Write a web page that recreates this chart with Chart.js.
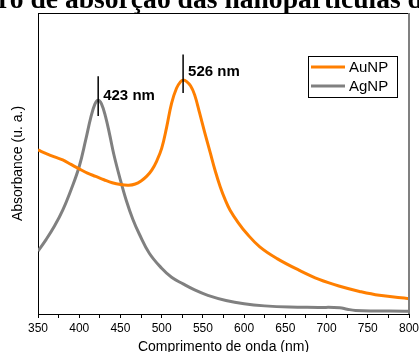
<!DOCTYPE html>
<html>
<head>
<meta charset="utf-8">
<script src="https://cdn.jsdelivr.net/npm/chart.js@4"></script>
<style>
html, body { margin: 0; padding: 0; background: #fff; overflow: hidden; }
</style>
</head>
<body>
<canvas id="espectro" width="419" height="352"></canvas>
<script>
// --- dados (absorbância em unidades arbitrárias) ---
const ondaAu = [350, 360, 370, 380, 390, 400, 410, 420, 430, 440, 450, 460, 468, 475, 482, 488, 494, 500, 506, 512, 518, 523, 526, 530, 535, 540, 546, 552, 559, 565, 571, 577, 583, 593, 603, 619, 640, 667, 691, 716, 740, 764, 800];
const absAu  = [0.545, 0.533, 0.522, 0.512, 0.497, 0.482, 0.468, 0.457, 0.446, 0.436, 0.430, 0.428, 0.432, 0.442, 0.458, 0.478, 0.508, 0.550, 0.620, 0.700, 0.750, 0.772, 0.777, 0.773, 0.758, 0.728, 0.668, 0.605, 0.535, 0.475, 0.423, 0.380, 0.345, 0.303, 0.268, 0.223, 0.184, 0.145, 0.115, 0.092, 0.075, 0.062, 0.051];

const ondaAg = [350, 360, 370, 380, 390, 400, 408, 414, 419, 423, 427, 432, 437, 442, 449, 457, 465, 473, 485, 500, 512, 526, 540, 556, 578, 600, 625, 655, 690, 716, 725, 735, 800];
const absAg  = [0.209, 0.248, 0.292, 0.345, 0.412, 0.490, 0.580, 0.652, 0.697, 0.710, 0.698, 0.655, 0.595, 0.530, 0.455, 0.378, 0.315, 0.265, 0.202, 0.152, 0.122, 0.100, 0.080, 0.062, 0.045, 0.034, 0.027, 0.023, 0.022, 0.021, 0.016, 0.012, 0.009];

const series = ['AuNP', 'AgNP'];
const cores = ['#ff7f00', '#808080'];

// marcações dos picos
const picos = [423, 526];
const picoTopo = [0.79, 0.862];
const picoBase = [0.658, 0.734];
const picoTextoY = [0.712, 0.792];
const picoTexto = ['423 nm', '526 nm'];

const titulo = 'Espectro de absorção das nanopartículas de ouro e prata';

function pontos(xs, ys) {
    return xs.map((v, i) => ({ x: v, y: ys[i] }));
}

// desenha título cortado, bordas, marcações e legenda com caixa
const extras = {
    id: 'extras',
    afterDraw(chart) {
        const { ctx, chartArea: a, scales: { x, y } } = chart;
        ctx.save();

        // borda superior preta e direita cinza
        ctx.strokeStyle = '#000';
        ctx.lineWidth = 1;
        ctx.beginPath();
        ctx.moveTo(a.left, a.top + 0.5);
        ctx.lineTo(a.right, a.top + 0.5);
        ctx.stroke();
        ctx.strokeStyle = '#808080';
        ctx.lineWidth = 2;
        ctx.beginPath();
        ctx.moveTo(a.right, a.top);
        ctx.lineTo(a.right, a.bottom);
        ctx.stroke();

        // linhas dos picos
        ctx.strokeStyle = '#000';
        ctx.lineWidth = 1.5;
        ctx.fillStyle = '#000';
        ctx.font = 'bold 15px "Liberation Sans", Arial';
        ctx.textBaseline = 'alphabetic';
        ctx.textAlign = 'left';
        picos.forEach((p, i) => {
            const px = x.getPixelForValue(p);
            ctx.beginPath();
            ctx.moveTo(px, y.getPixelForValue(picoTopo[i]));
            ctx.lineTo(px, y.getPixelForValue(picoBase[i]));
            ctx.stroke();
            ctx.fillText(picoTexto[i], px + 5, y.getPixelForValue(picoTextoY[i]));
        });

        // legenda
        const lx = a.right - 101, ly = a.top + 43, lw = 89, lh = 41;
        ctx.fillStyle = '#fff';
        ctx.fillRect(lx, ly, lw, lh);
        ctx.strokeStyle = '#000';
        ctx.lineWidth = 1;
        ctx.strokeRect(lx + 0.5, ly + 0.5, lw, lh);
        ctx.font = '15px "Liberation Sans", Arial';
        ctx.textBaseline = 'middle';
        chart.data.datasets.forEach((ds, i) => {
            const yy = ly + 11 + i * 19;
            ctx.strokeStyle = ds.borderColor;
            ctx.lineWidth = 3;
            ctx.beginPath();
            ctx.moveTo(lx + 3, yy);
            ctx.lineTo(lx + 37, yy);
            ctx.stroke();
            ctx.fillStyle = '#000';
            ctx.fillText(ds.label, lx + 41, yy + 1);
        });

        // título (maior que a figura, cortado nas bordas)
        ctx.font = 'bold 27.6px "Liberation Serif", "Times New Roman", serif';
        ctx.textBaseline = 'alphabetic';
        ctx.fillStyle = '#000';
        const desloc = ctx.measureText('Espect').width;
        ctx.fillText(titulo, -2 - desloc, 7.5);

        ctx.restore();
    }
};

const ctx = document.getElementById('espectro').getContext('2d');
new Chart(ctx, {
    type: 'line',
    data: {
        datasets: [
            { label: series[0], data: pontos(ondaAu, absAu), borderColor: cores[0], backgroundColor: cores[0] },
            { label: series[1], data: pontos(ondaAg, absAg), borderColor: cores[1], backgroundColor: cores[1] }
        ]
    },
    options: {
        responsive: false,
        animation: false,
        layout: { padding: { top: 13, right: 10, left: 0, bottom: 0 } },
        elements: {
            point: { radius: 0 },
            line: { borderWidth: 3, tension: 0.4, fill: false }
        },
        plugins: {
            legend: { display: false },
            tooltip: { enabled: false },
            title: { display: false }
        },
        scales: {
            x: {
                type: 'linear',
                min: 350,
                max: 800,
                afterFit: s => { s.height = 38; s.paddingRight = 0; s.paddingLeft = 0; },
                grid: { drawOnChartArea: false, drawTicks: true, tickLength: 4, color: '#000', lineWidth: 1 },
                border: { display: true, color: '#000', width: 1 },
                ticks: {
                    stepSize: 25,
                    autoSkip: false,
                    maxRotation: 0,
                    padding: 3,
                    color: '#000',
                    font: { family: '"Liberation Sans", Arial', size: 12 },
                    callback: v => (v % 50 === 0 ? v : '')
                },
                title: {
                    display: true,
                    text: 'Comprimento de onda (nm)',
                    color: '#000',
                    font: { family: '"Liberation Sans", Arial', size: 14 },
                    padding: { top: 0, bottom: -4 }
                }
            },
            y: {
                min: 0,
                max: 1,
                afterFit: s => { s.width = 38; },
                grid: { display: false },
                border: { display: true, color: '#000', width: 1 },
                ticks: { display: false },
                title: {
                    display: true,
                    text: 'Absorbance (u. a.)',
                    color: '#000',
                    font: { family: '"Liberation Sans", Arial', size: 14 },
                    padding: { top: 10, bottom: 0 }
                }
            }
        }
    },
    plugins: [extras]
});
</script>
</body>
</html>
